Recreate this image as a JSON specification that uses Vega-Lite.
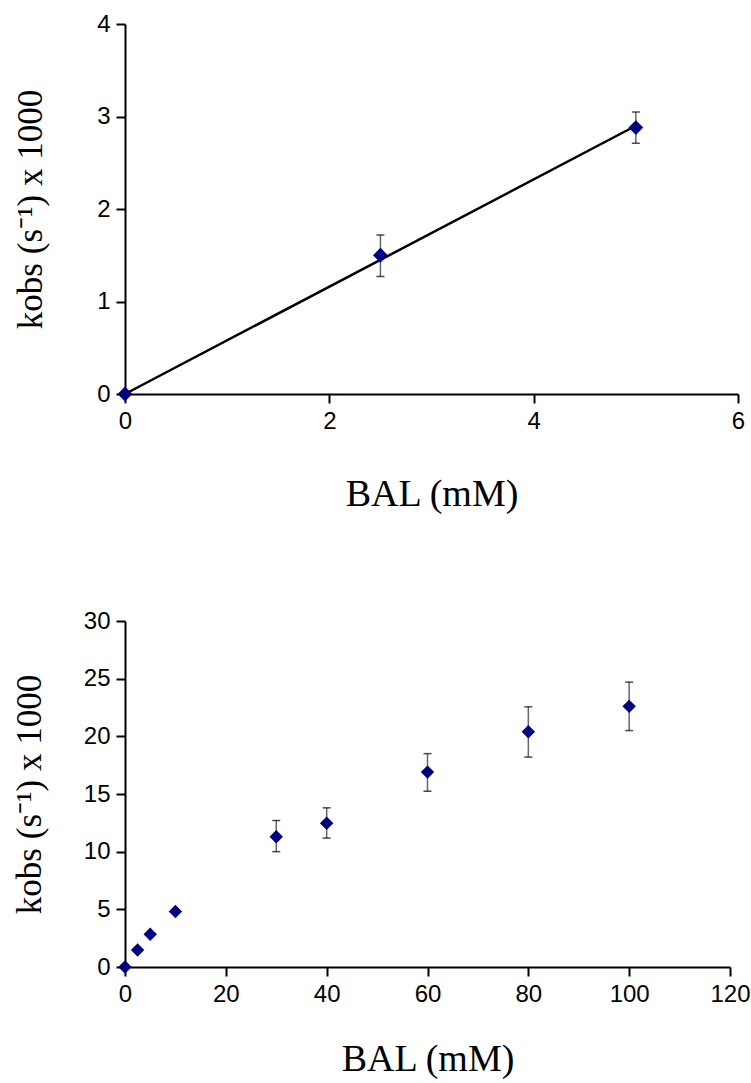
{
  "$schema": "https://vega.github.io/schema/vega-lite/v6.json",
  "background": "white",
  "padding": {"left": 12, "top": 12, "right": 5, "bottom": 5},
  "spacing": 96,
  "config": {
    "view": {"stroke": null},
    "axis": {
      "grid": false,
      "domainColor": "black",
      "domainWidth": 2,
      "tickColor": "black",
      "tickWidth": 2,
      "tickSize": 9,
      "labelFont": "Liberation Sans",
      "labelFontSize": 24,
      "labelColor": "black",
      "labelPadding": 6,
      "labelFlush": false,
      "format": "d",
      "titleFont": "Liberation Serif",
      "titleFontWeight": "normal",
      "titleColor": "black"
    },
    "axisX": {"titleFontSize": 38},
    "axisY": {"titleFontSize": 35}
  },
  "datasets": {
    "top": [
      {"bal": 0, "k": 0, "lo": 0, "hi": 0},
      {"bal": 2.5, "k": 1.5, "lo": 1.27, "hi": 1.72},
      {"bal": 5, "k": 2.88, "lo": 2.71, "hi": 3.05}
    ],
    "fit": [
      {"bal": 0, "k": 0},
      {"bal": 5, "k": 2.9}
    ],
    "bottom": [
      {"bal": 0, "k": 0, "lo": null, "hi": null},
      {"bal": 2.5, "k": 1.48, "lo": null, "hi": null},
      {"bal": 5, "k": 2.84, "lo": null, "hi": null},
      {"bal": 10, "k": 4.81, "lo": null, "hi": null},
      {"bal": 30, "k": 11.3, "lo": 10.0, "hi": 12.7},
      {"bal": 40, "k": 12.46, "lo": 11.18, "hi": 13.8},
      {"bal": 60, "k": 16.9, "lo": 15.24, "hi": 18.5},
      {"bal": 80, "k": 20.4, "lo": 18.2, "hi": 22.56},
      {"bal": 100, "k": 22.6, "lo": 20.5, "hi": 24.7}
    ]
  },
  "vconcat": [
    {
      "width": 613,
      "height": 370,
      "layer": [
        {
          "data": {"name": "fit"},
          "mark": {"type": "line", "color": "black", "strokeWidth": 2.5},
          "encoding": {
            "x": {"field": "bal", "type": "quantitative", "scale": {"domain": [0, 6]}, "axis": {"values": [0, 2, 4, 6], "title": "BAL (mM)", "titlePadding": 42}},
            "y": {"field": "k", "type": "quantitative", "scale": {"domain": [0, 4]}, "axis": {"values": [0, 1, 2, 3, 4], "title": "kobs (s⁻¹) x 1000", "titlePadding": 48}}
          }
        },
        {
          "data": {"name": "top"},
          "transform": [{"filter": "datum.bal > 0"}],
          "mark": {"type": "rule", "color": "#666666", "strokeWidth": 1.5},
          "encoding": {
            "x": {"field": "bal", "type": "quantitative"},
            "y": {"field": "lo", "type": "quantitative"},
            "y2": {"field": "hi"}
          }
        },
        {
          "data": {"name": "top"},
          "transform": [{"filter": "datum.bal > 0"}],
          "mark": {"type": "tick", "orient": "horizontal", "color": "black", "size": 8, "thickness": 1.5},
          "encoding": {
            "x": {"field": "bal", "type": "quantitative"},
            "y": {"field": "lo", "type": "quantitative"}
          }
        },
        {
          "data": {"name": "top"},
          "transform": [{"filter": "datum.bal > 0"}],
          "mark": {"type": "tick", "orient": "horizontal", "color": "black", "size": 8, "thickness": 1.5},
          "encoding": {
            "x": {"field": "bal", "type": "quantitative"},
            "y": {"field": "hi", "type": "quantitative"}
          }
        },
        {
          "data": {"name": "top"},
          "mark": {"type": "point", "shape": "diamond", "filled": true, "color": "#000080", "size": 220, "opacity": 1},
          "encoding": {
            "x": {"field": "bal", "type": "quantitative"},
            "y": {"field": "k", "type": "quantitative"}
          }
        }
      ]
    },
    {
      "width": 605,
      "height": 346,
      "data": {"name": "bottom"},
      "layer": [
        {
          "transform": [{"filter": "datum.hi != null"}],
          "mark": {"type": "rule", "color": "#666666", "strokeWidth": 1.5},
          "encoding": {
            "x": {"field": "bal", "type": "quantitative", "scale": {"domain": [0, 120]}, "axis": {"values": [0, 20, 40, 60, 80, 100, 120], "title": "BAL (mM)", "titlePadding": 34}},
            "y": {"field": "lo", "type": "quantitative", "scale": {"domain": [0, 30]}, "axis": {"values": [0, 5, 10, 15, 20, 25, 30], "title": "kobs (s⁻¹) x 1000", "titlePadding": 36}},
            "y2": {"field": "hi"}
          }
        },
        {
          "transform": [{"filter": "datum.hi != null"}],
          "mark": {"type": "tick", "orient": "horizontal", "color": "black", "size": 8, "thickness": 1.5},
          "encoding": {
            "x": {"field": "bal", "type": "quantitative"},
            "y": {"field": "lo", "type": "quantitative"}
          }
        },
        {
          "transform": [{"filter": "datum.hi != null"}],
          "mark": {"type": "tick", "orient": "horizontal", "color": "black", "size": 8, "thickness": 1.5},
          "encoding": {
            "x": {"field": "bal", "type": "quantitative"},
            "y": {"field": "hi", "type": "quantitative"}
          }
        },
        {
          "mark": {"type": "point", "shape": "diamond", "filled": true, "color": "#000080", "size": 180, "opacity": 1},
          "encoding": {
            "x": {"field": "bal", "type": "quantitative"},
            "y": {"field": "k", "type": "quantitative"}
          }
        }
      ]
    }
  ]
}
